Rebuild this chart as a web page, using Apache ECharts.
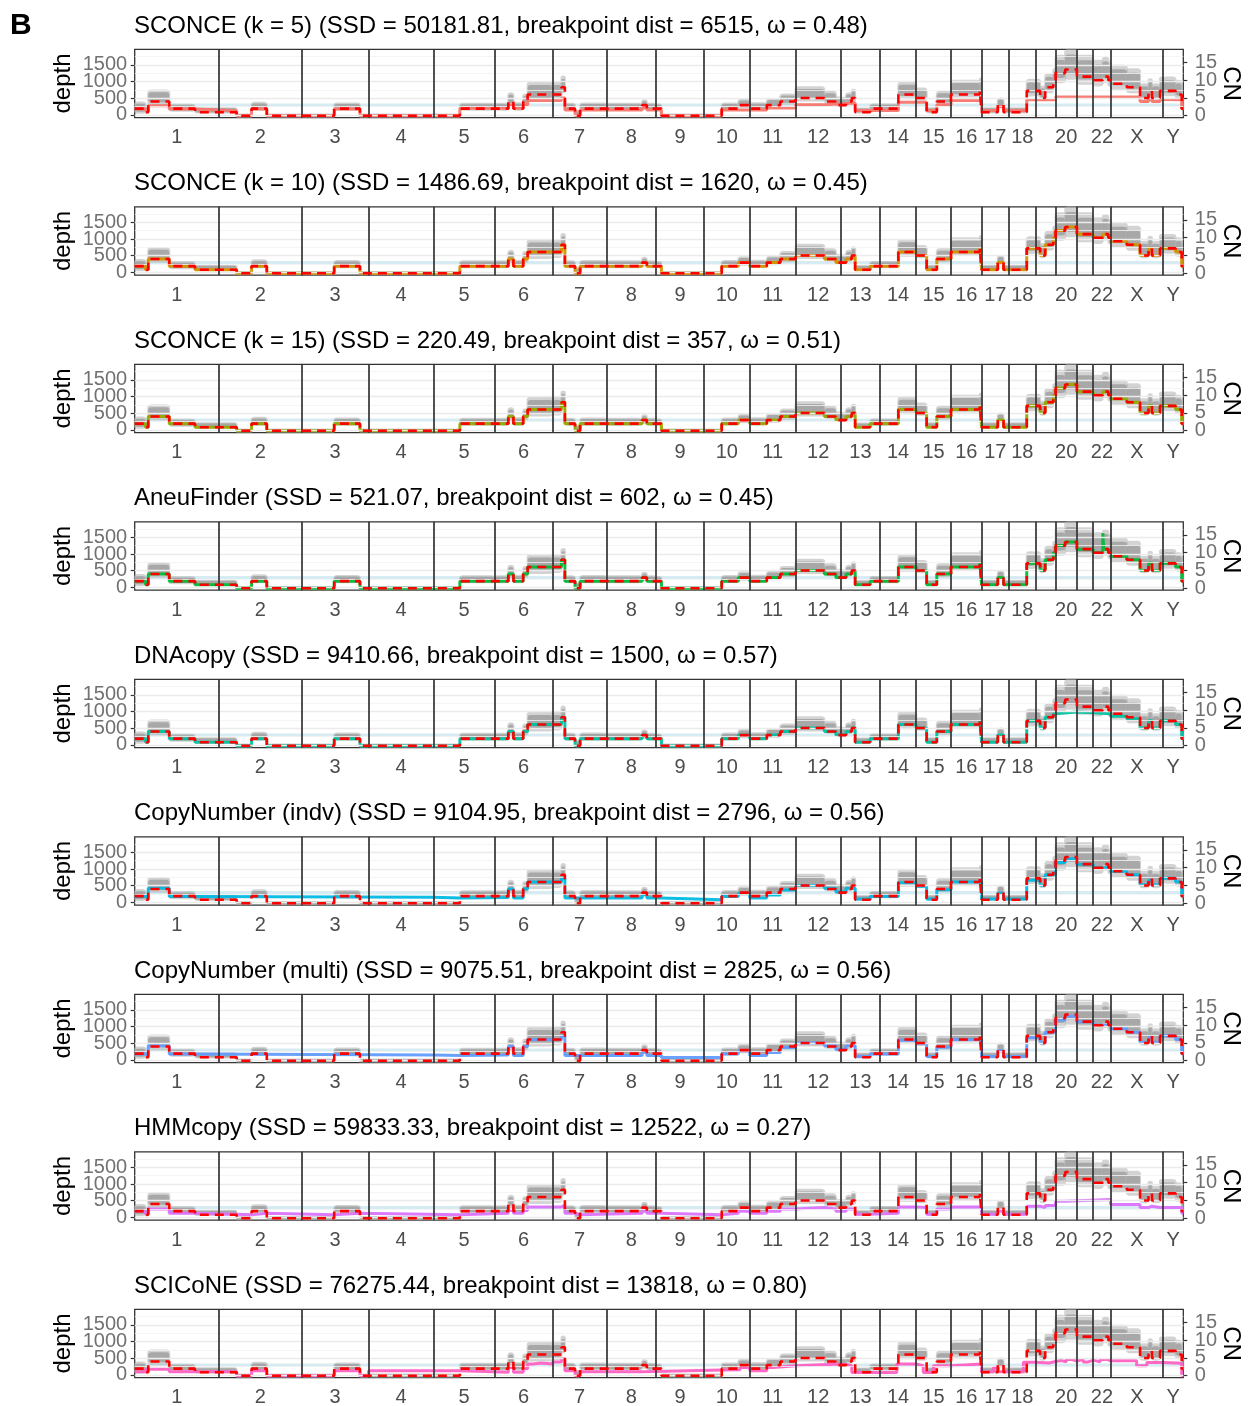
<!DOCTYPE html>
<html><head><meta charset="utf-8">
<script src="https://cdn.jsdelivr.net/npm/echarts@6/dist/echarts.min.js"></script>
<style>html,body{margin:0;padding:0;background:#fff}#c{width:1248px;height:1406px}</style>
</head><body><div id="c"></div><script>
// ---------- data ----------
const chromNames = ['1','2','3','4','5','6','7','8','9','10','11','12','13','14','15','16','17','18','19','20','21','22','X','Y'];
const chromLengthsMb = [249.3,243.2,198.0,191.2,180.9,171.1,159.1,146.4,141.2,135.5,135.0,133.9,115.2,107.3,102.5,90.4,81.2,78.1,59.1,63.0,48.1,51.3,155.3,59.4];
const labelledChroms = ['1','2','3','4','5','6','7','8','9','10','11','12','13','14','15','16','17','18','20','22','X','Y'];
const depthTicks = [0,500,1000,1500];
const cnTicks = [0,5,10,15];
const panelTitles = [
 'SCONCE (k = 5) (SSD = 50181.81, breakpoint dist = 6515, ω = 0.48)',
 'SCONCE (k = 10) (SSD = 1486.69, breakpoint dist = 1620, ω = 0.45)',
 'SCONCE (k = 15) (SSD = 220.49, breakpoint dist = 357, ω = 0.51)',
 'AneuFinder (SSD = 521.07, breakpoint dist = 602, ω = 0.45)',
 'DNAcopy (SSD = 9410.66, breakpoint dist = 1500, ω = 0.57)',
 'CopyNumber (indv) (SSD = 9104.95, breakpoint dist = 2796, ω = 0.56)',
 'CopyNumber (multi) (SSD = 9075.51, breakpoint dist = 2825, ω = 0.56)',
 'HMMcopy (SSD = 59833.33, breakpoint dist = 12522, ω = 0.27)',
 'SCICoNE (SSD = 76275.44, breakpoint dist = 13818, ω = 0.80)'
];
const methodColors = ['#F8766D','#D39200','#93AA00','#00BA38','#00C19F','#00B9E3','#619CFF','#DB72FB','#FF61C3'];

// observed depth (grey cloud): [startMb, endMb, lowDepth, highDepth]
const depthBands = [
 [0,32,30,400],[32,40,20,250],[40,102,290,760],[102,178,90,330],[178,249.3,40,230],
 [249.3,301,40,230],[301,345,-90,40],[345,390,120,390],[390,492.5,-90,40],
 [492.5,589,-90,40],[589,665,120,370],[665,690.5,-90,40],
 [690.5,881.7,-90,40],
 [881.7,960,-90,40],[960,1062.6,120,360],
 [1062.6,1103,120,360],[1103,1118,280,680],[1118,1147,120,380],[1147,1160,280,640],[1160,1233.7,400,1000],
 [1233.7,1260,430,1000],[1260,1270,650,1180],[1270,1300,120,360],[1300,1315,-80,150],[1315,1392.8,120,370],
 [1392.8,1498,120,360],[1498,1512,180,470],[1512,1539.2,120,360],
 [1539.2,1555,120,340],[1555,1680.4,-90,40],
 [1680.4,1733,-90,40],[1733,1782,130,370],[1782,1815.9,200,480],
 [1815.9,1866,140,380],[1866,1906,210,500],[1906,1950.9,300,640],
 [1950.9,2036,400,860],[2036,2070,330,720],[2070,2084.8,240,560],
 [2084.8,2100,240,540],[2100,2117,320,680],[2117,2127,380,780],[2127,2171,40,220],[2171,2200,120,340],
 [2200,2254.5,120,340],[2254.5,2307.3,470,1000],
 [2307.3,2338,420,820],[2338,2368,40,230],[2368,2409.8,300,720],
 [2409.8,2495,520,1050],[2495,2500.2,620,1120],
 [2500.2,2548,40,230],[2548,2565,220,520],[2565,2581.4,40,230],
 [2581.4,2633.5,40,230],[2633.5,2659.5,550,1080],
 [2659.5,2673,550,1080],[2673,2688,420,880],[2688,2712,650,1250],[2712,2718.6,850,1400],
 [2718.6,2747,950,1800],[2747,2781.6,1050,1980],
 [2781.6,2829.7,900,1800],
 [2829.7,2858,850,1650],[2858,2874.5,950,1750],[2874.5,2881,850,1600],
 [2881,2929,750,1500],[2929,2968,650,1400],[2968,2993,420,950],[2993,3003,560,1100],[3003,3027,420,950],[3027,3036.3,560,1150],
 [3036.3,3073,560,1150],[3073,3091,470,1050],[3091,3095.7,140,500]
];

// copy-number profiles as [segmentEndMb, CN] (segments start where the previous one ends)
const cnTruth = [[32,2],[40,1],[102,4],[178,2],[301,1],[345,0],[390,2],[589,0],[665,2],[960,0],[1103,2],[1118,4],[1147,2],[1160,4],[1260,6],[1270,8],[1300,2],[1315,0],[1498,2],[1512,3],[1555,2],[1733,0],[1782,2],[1815.9,3],[1866,2],[1906,3],[1950.9,4],[2036,5],[2070,4],[2100,3],[2117,4],[2127,5],[2171,1],[2254.5,2],[2307.3,6],[2338,5],[2368,1],[2409.8,4],[2495,6],[2500.2,7],[2548,1],[2565,3],[2633.5,1],[2673,7],[2688,5],[2712,8],[2718.6,10],[2747,12],[2781.6,13],[2829.7,11],[2858,10],[2874.5,11],[2881,10],[2929,9],[2968,8],[2993,5],[3003,7],[3027,5],[3073,7],[3091,6],[3095.7,2]];
const cnSconce5 = [[32,2],[40,1.4],[102,2.8],[178,1.9],[301,1.4],[345,0],[390,1.9],[589,0],[665,1.9],[960,0],[1103,2.1],[1118,3],[1147,2.1],[1160,3],[1260,4.3],[1270,5],[1300,1.6],[1315,0],[1498,1.6],[1512,2.2],[1555,1.6],[1733,0],[1866,1.6],[1950.9,2.2],[2036,3.1],[2127,3.6],[2254.5,1.5],[2338,3.8],[2368,1.5],[2409.8,3.1],[2500.2,4.3],[2548,1.5],[2565,2.6],[2633.5,1.5],[2718.6,4.5],[2968,5.3],[2993,4],[3003,4.6],[3027,4],[3036.3,4.6],[3091,4.5],[3095.7,2]];
const cnSconce10 = [[32,2],[40,1],[102,4],[178,2],[301,1],[345,0],[390,2],[589,0],[665,2],[960,0],[1103,2],[1118,4],[1147,2],[1160,4],[1260,6],[1270,8],[1300,2],[1315,0],[1498,2],[1512,3],[1555,2],[1733,0],[1782,2],[1815.9,3],[1866,2],[1906,3],[1950.9,4],[2036,5],[2070,4],[2100,3],[2117,4],[2127,5],[2171,1],[2254.5,2],[2307.3,6],[2338,5],[2368,1],[2409.8,4],[2495,6],[2500.2,7],[2548,1],[2565,3],[2633.5,1],[2673,7],[2688,5],[2712,8],[2718.6,10],[2747,12],[2781.6,13],[2829.7,11],[2858,10],[2874.5,11],[2881,10],[2929,9],[2968,8],[2993,5],[3003,7],[3027,5],[3073,7],[3091,6],[3095.7,2]];
const cnSconce15 = [[32,2],[40,1],[102,4],[178,2],[301,1],[345,0],[390,2],[589,0],[665,2],[960,0],[1103,2],[1118,4],[1147,2],[1160,4],[1260,6],[1270,8],[1300,2],[1315,0],[1498,2],[1512,3],[1555,2],[1733,0],[1782,2],[1815.9,3],[1866,2],[1906,3],[1950.9,4],[2036,5],[2070,4],[2100,3],[2117,4],[2127,5],[2171,1],[2254.5,2],[2307.3,6],[2338,5],[2368,1],[2409.8,4],[2495,6],[2500.2,7],[2548,1],[2565,3],[2633.5,1],[2673,7],[2688,5],[2712,8],[2718.6,10],[2747,12],[2781.6,13],[2829.7,11],[2858,10],[2874.5,11],[2881,10],[2929,9],[2968,8],[2993,5],[3003,7],[3027,5],[3073,7],[3091,6],[3095.7,2]];
const cnAneuFinder = [[32,2],[40,1],[102,4],[178,2],[301,1],[345,0],[390,2],[589,0],[665,2],[960,0],[1103,2],[1118,4],[1147,2],[1160,4],[1260,6],[1270,8],[1300,2],[1315,0],[1498,2],[1512,3],[1555,2],[1733,0],[1782,2],[1815.9,3],[1866,2],[1906,3],[1950.9,4],[2036,5],[2070,4],[2100,3],[2117,4],[2127,5],[2171,1],[2254.5,2],[2307.3,6],[2338,5],[2368,1],[2409.8,4],[2495,6],[2500.2,7],[2548,1],[2565,3],[2633.5,1],[2673,7],[2688,5],[2712,8],[2718.6,10],[2747,12],[2781.6,13],[2829.7,11],[2858,10],[2861,15.5],[2874.5,11],[2881,10],[2929,9],[2968,8],[2993,5],[3003,7],[3027,5],[3073,7],[3091,6],[3095.7,2]];
const cnDNAcopy = [[32,2],[40,1],[102,4],[178,2],[301,1],[345,0],[390,2],[589,0],[665,2],[960,0],[1103,2],[1118,4],[1147,2],[1160,4],[1260,6],[1270,8],[1300,2],[1315,0],[1498,2],[1512,3],[1555,2],[1733,0],[1782,2],[1815.9,3],[1866,2],[1906,3],[1950.9,4],[2036,5],[2070,4],[2100,3],[2117,4],[2127,5],[2171,1],[2254.5,2],[2307.3,6],[2338,5],[2368,1],[2409.8,4],[2495,6],[2500.2,7],[2548,1],[2565,3],[2633.5,1],[2673,7],[2688,5],[2712,8],[2718.6,9],[2781.6,9.5],[2829.7,9.3],[2881,9],[2929,8.3],[2968,7.6],[2993,5],[3003,7],[3027,5],[3073,7],[3091,6],[3095.7,2]];
const cnCopyNumberIndv = [[32,1.9],[40,1.6],[102,4.2],[178,1.9],[881.7,1.7],[960,1.5],[1103,1.6],[1118,4],[1147,1.5],[1160,4],[1260,6],[1270,7],[1498,1.5],[1512,2.4],[1555,1.5],[1733,0.95],[1782,1.9],[1815.9,2.8],[1866,1.5],[1906,2.3],[1950.9,3.7],[2036,5],[2070,4.2],[2100,3.2],[2127,4.2],[2171,1.2],[2254.5,1.9],[2307.3,5.8],[2338,4.8],[2368,1.2],[2409.8,3.8],[2500.2,6],[2548,1.2],[2565,2.8],[2633.5,1.2],[2673,6.5],[2688,5],[2718.6,8],[2747,11.5],[2781.6,12.5],[2829.7,11],[2881,10],[2929,9],[2968,8],[2993,5.2],[3003,6.5],[3027,5.2],[3073,7],[3091,6],[3095.7,2]];
const cnCopyNumberMulti = [[32,1.9],[40,1.6],[102,4.2],[178,1.9],[881.7,1.6],[960,1.5],[1103,1.6],[1118,4],[1147,1.5],[1160,4],[1260,6],[1270,7],[1498,1.5],[1512,2.4],[1555,1.5],[1733,0.9],[1782,1.9],[1815.9,2.8],[1866,1.5],[1906,2.3],[1950.9,3.7],[2036,5],[2070,4.2],[2100,3.2],[2127,4.2],[2171,1.2],[2254.5,1.9],[2307.3,5.8],[2338,4.8],[2368,1.2],[2409.8,3.8],[2500.2,6],[2548,1.2],[2565,2.8],[2633.5,1.2],[2673,6.5],[2688,5],[2718.6,8],[2747,11.5],[2781.6,12.5],[2829.7,11],[2881,10],[2929,9],[2968,8],[2993,5.2],[3003,6.5],[3027,5.2],[3073,7],[3091,6],[3095.7,2]];
const cnHMMcopy = [[32,2],[40,1.2],[102,2.6],[178,1.4],[301,1.1],[345,0.95],[390,1.4],[589,0.95],[665,1.4],[960,0.95],[1103,1.4],[1118,2.2],[1147,1.4],[1160,2.2],[1260,3.2],[1270,3.6],[1300,1.4],[1315,0.95],[1498,1.4],[1512,2],[1555,1.4],[1733,0.95],[1782,1.4],[1815.9,2],[1866,1.4],[1906,2],[1950.9,2.6],[2036,3],[2070,2.6],[2100,2],[2127,2.6],[2171,1.1],[2254.5,1.4],[2307.3,3.2],[2338,3],[2368,1.1],[2409.8,2.6],[2500.2,3.2],[2548,1.1],[2565,2],[2633.5,1.1],[2673,3.4],[2688,3],[2718.6,3.6],[2747,4.8],[2881,5.3],[2968,3.9],[2993,3],[3003,3.4],[3027,3],[3091,3],[3095.7,1.4]];
const cnSCICoNE = [[32,1.1],[102,1.8],[301,1.1],[345,0],[390,1.4],[589,0],[665,1.4],[690.5,0],[960,1.4],[1103,1],[1118,2.3],[1147,1],[1160,2],[1175,3.3],[1200,3.6],[1233.7,3.3],[1260,3.9],[1270,4.7],[1300,1.4],[1315,0],[1498,1.1],[1733,1.6],[1787,1.7],[1815.9,2.3],[1866,1.4],[1885.6,2.3],[1950.9,2.8],[2084.8,3.3],[2117,2.8],[2250,0.9],[2307.3,3.3],[2328,2.8],[2358,0.9],[2409.8,2.8],[2500.2,3.3],[2535,1.1],[2550,2.3],[2623.6,1.1],[2659.5,3.8],[2700,3.6],[2718.6,4],[2735,4.3],[2750,3.9],[2765,4.6],[2781.6,4.1],[2800,4.6],[2815,3.9],[2829.7,4.4],[2850,3.9],[2870,4.6],[2881,4.2],[2958,4.2],[2988,2.8],[3036.3,3.75],[3091,3.5],[3095.7,0]];
const methodProfiles = [cnSconce5,cnSconce10,cnSconce15,cnAneuFinder,cnDNAcopy,cnCopyNumberIndv,cnCopyNumberMulti,cnHMMcopy,cnSCICoNE];

// ---------- layout ----------
const FONT = '"Liberation Sans", Arial, sans-serif';
const PANEL_TOP0 = 49.3, PITCH = 157.5, PLOT_H = 68.4, GRID_LEFT = 134.7, GRID_RIGHT = 64.7;
const DEPTH_MIN = -85, DEPTH_MAX = 1965, CN_MIN = -0.55, CN_MAX = 18.7;

const chromStarts = []; let acc = 0;
chromLengthsMb.forEach(l => { chromStarts.push(acc); acc += l; });
const genomeEnd = acc;
const chromMids = chromLengthsMb.map((l,i) => chromStarts[i] + l/2);
const boundaries = chromStarts.slice(1);
const labelValues = labelledChroms.map(c => chromMids[chromNames.indexOf(c)]);
function chromLabel(v){ let best=0,bd=1e9; chromMids.forEach((m,i)=>{const d=Math.abs(m-v); if(d<bd){bd=d;best=i;}}); return chromNames[best]; }
function stepPoints(segs){ const pts=[]; let s=0; segs.forEach(([e,v])=>{ pts.push([s,v],[e,v]); s=e; }); return pts; }

const grids=[], xAxes=[], yAxes=[], series=[], titles=[];
titles.push({text:'B', left:10, top:11, padding:0, textStyle:{fontFamily:FONT,fontSize:30,fontWeight:'bold',color:'#000'}});
const tickFont = {fontFamily:FONT, fontSize:20, color:'#4D4D4D'};
panelTitles.forEach((t,i)=>{
  const top = PANEL_TOP0 + i*PITCH;
  titles.push({text:t, left:134, top: top-35, padding:0, textStyle:{fontFamily:FONT,fontSize:24,fontWeight:'normal',color:'#000'}});
  grids.push({left:GRID_LEFT, right:GRID_RIGHT, top:top, height:PLOT_H, show:true, borderColor:'#333', borderWidth:1.3, backgroundColor:'#fff',
    containLabel:false, outerBoundsMode:'none'});
  xAxes.push({gridIndex:i, type:'value', min:0, max:genomeEnd,
    axisLine:{show:false}, axisTick:{show:false}, splitLine:{show:false},
    axisLabel:Object.assign({customValues:labelValues, formatter:v=>chromLabel(v), margin:10, hideOverlap:false}, tickFont)});
  yAxes.push({gridIndex:i, type:'value', min:DEPTH_MIN, max:DEPTH_MAX, position:'left',
    name:'depth', nameLocation:'middle', nameGap:59, nameTextStyle:{fontFamily:FONT,fontSize:24,color:'#000'},
    axisLine:{show:false}, splitLine:{show:false}, axisLabel:{show:false},
    axisTick:{show:true, customValues:depthTicks, length:4, lineStyle:{color:'#333',width:1.2}}});
  yAxes.push({gridIndex:i, type:'value', min:CN_MIN, max:CN_MAX, position:'right',
    name:'CN', nameLocation:'middle', nameGap:35, nameRotate:-90, nameTextStyle:{fontFamily:FONT,fontSize:24,color:'#000'},
    axisLine:{show:false}, splitLine:{show:false}, axisLabel:{show:false},
    axisTick:{show:true, customValues:cnTicks, length:4, lineStyle:{color:'#333',width:1.2}}});
  const yD = 2*i, yC = 2*i+1;
  // background: gridlines + light-blue band
  series.push({type:'line', xAxisIndex:i, yAxisIndex:yD, data:[], silent:true, z:1,
    markArea:{silent:true, itemStyle:{color:'rgba(173,216,230,0.5)'}, data:[[{yAxis:240},{yAxis:340}]]},
    markLine:{silent:true, symbol:'none', label:{show:false}, animation:false,
      data:[0,250,500,750,1000,1250,1500,1750].map(v=>({yAxis:v, lineStyle:{color: v%500===0?'#EBEBEB':'#F2F2F2', width: v%500===0?1.4:0.8, type:'solid'}}))}});
  // grey depth cloud (outer halo + denser core)
  series.push({type:'custom', xAxisIndex:i, yAxisIndex:yD, z:2, silent:true, data:depthBands,
    renderItem:(p,api)=>{
      const lo=api.value(2), hi=api.value(3), pad=(hi-lo)*0.18;
      const a=api.coord([api.value(0),hi]), b=api.coord([api.value(1),lo]);
      const c=api.coord([api.value(0),hi-pad]), d=api.coord([api.value(1),lo+pad]);
      return {type:'group', children:[
        {type:'rect', shape:{x:a[0]-1,y:a[1],width:b[0]-a[0]+2,height:b[1]-a[1],r:4}, style:{fill:'rgba(175,175,175,0.55)'}},
        {type:'rect', shape:{x:c[0],y:c[1],width:d[0]-c[0],height:d[1]-c[1],r:3}, style:{fill:'rgba(160,160,160,0.85)'}}
      ]};
    }});
  // chromosome boundaries
  series.push({type:'line', xAxisIndex:i, yAxisIndex:yD, data:[], silent:true, z:3,
    markLine:{silent:true, symbol:'none', label:{show:false}, animation:false,
      lineStyle:{color:'#333', width:1.7, type:'solid'}, data:boundaries.map(b=>({xAxis:b}))}});
  // method profile
  series.push({type:'line', xAxisIndex:i, yAxisIndex:yC, z:4, silent:true, showSymbol:false, animation:false,
    data:stepPoints(methodProfiles[i]), lineStyle:{color:methodColors[i], width:3, opacity:0.95}});
  // truth
  series.push({type:'line', xAxisIndex:i, yAxisIndex:yC, z:5, silent:true, showSymbol:false, animation:false,
    data:stepPoints(cnTruth), lineStyle:{color:'#FF0000', width:2.6, type:[9,6]}});
  // tick labels (placed through the axes' own scales)
  series.push({type:'scatter', xAxisIndex:i, yAxisIndex:yD, z:10, silent:true, clip:false, symbol:'circle', symbolSize:1,
    itemStyle:{color:'rgba(0,0,0,0)'}, labelLayout:{hideOverlap:false},
    data:depthTicks.map(v=>[0,v]),
    label:Object.assign({show:true, position:'left', distance:7, formatter:p=>String(p.value[1])}, tickFont)});
  series.push({type:'scatter', xAxisIndex:i, yAxisIndex:yC, z:10, silent:true, clip:false, symbol:'circle', symbolSize:1,
    itemStyle:{color:'rgba(0,0,0,0)'}, labelLayout:{hideOverlap:false},
    data:cnTicks.map(v=>[genomeEnd,v]),
    label:Object.assign({show:true, position:'right', distance:11, formatter:p=>String(p.value[1])}, tickFont)});
});

const chart = echarts.init(document.getElementById('c'), null, {renderer:'canvas'});
chart.setOption({animation:false, backgroundColor:'#fff', title:titles, grid:grids, xAxis:xAxes, yAxis:yAxes, series:series});
</script></body></html>
